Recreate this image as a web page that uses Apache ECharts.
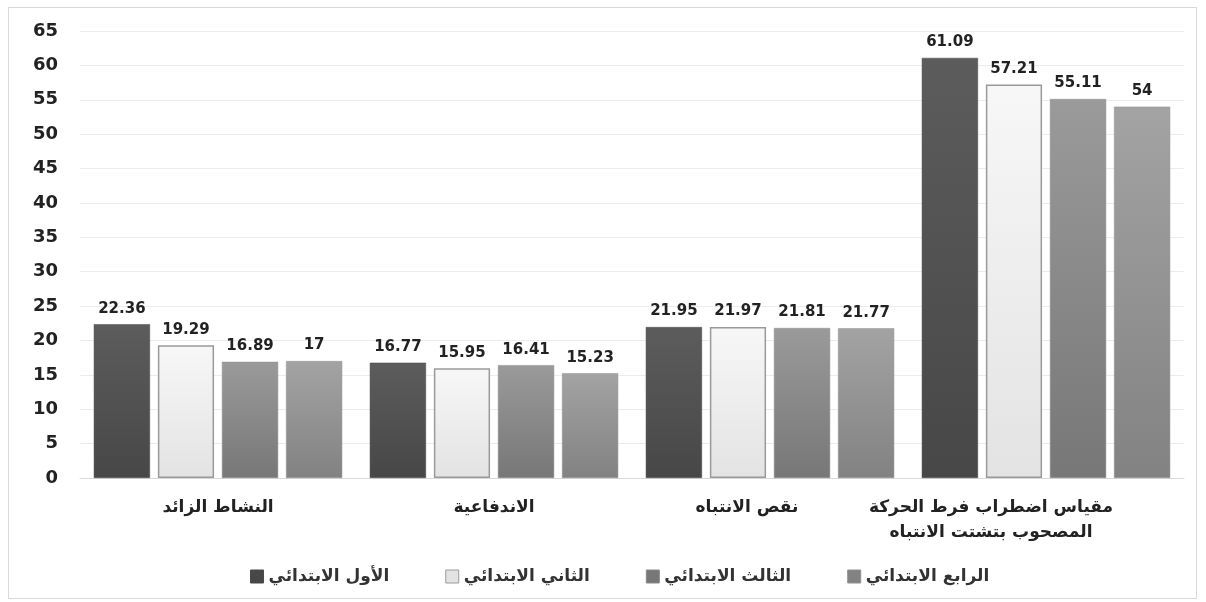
<!DOCTYPE html>
<html><head><meta charset="utf-8">
<script src="https://cdn.jsdelivr.net/npm/echarts@6/dist/echarts.min.js"></script>
<style>
html,body{margin:0;padding:0;background:#fff;}
#frame{position:absolute;left:8px;top:7px;width:1189px;height:592px;border:1px solid #d9d9d9;box-sizing:border-box;}
#c{position:absolute;left:0;top:0;width:1206px;height:602px;}
</style></head>
<body>
<div id="frame"></div>
<div id="c"></div>
<script>
const categories = ['النشاط الزائد', 'الاندفاعية', 'نقص الانتباه', 'مقياس اضطراب فرط الحركة\nالمصحوب بتشتت الانتباه'];
const seriesNames = ['الأول الابتدائي', 'الثاني الابتدائي', 'الثالث الابتدائي', 'الرابع الابتدائي'];
const grade1 = [22.36, 16.77, 21.95, 61.09];
const grade2 = [19.29, 15.95, 21.97, 57.21];
const grade3 = [16.89, 16.41, 21.81, 55.11];
const grade4 = [17, 15.23, 21.77, 54];
const yTicks = [0, 5, 10, 15, 20, 25, 30, 35, 40, 45, 50, 55, 60, 65];

const seriesData = [grade1, grade2, grade3, grade4];
const labelShift = [0, 0, 46, 110];
const fills = [
  ['#5c5c5c', '#474747'],
  ['#f7f7f7', '#e3e3e3'],
  ['#9a9a9a', '#777777'],
  ['#a3a3a3', '#828282']
];
const borders = ['#4a4a4a', '#9a9a9a', '#8a8a8a', '#909090'];
const chart = echarts.init(document.getElementById('c'));
chart.setOption({
  backgroundColor: 'transparent',
  animation: false,
  grid: {left: 80, right: 22, top: 31, bottom: 124, containLabel: false, outerBoundsMode: 'none'},
  legend: {
    bottom: 12, left: 245, icon: 'rect',
    itemWidth: 13, itemHeight: 13, itemGap: 56,
    textStyle: {fontFamily: '"DejaVu Sans"', fontWeight: 'bold', fontSize: 17, color: '#333'},
    data: seriesNames.map((n, i) => ({name: n, itemStyle: {color: fills[i][1], borderColor: borders[i], borderWidth: 1}}))
  },
  xAxis: {
    type: 'category',
    data: categories.map((c, i) => ({value: c, textStyle: {padding: [0, labelShift[i], 0, 0]}})),
    axisLine: {show: true, lineStyle: {color: '#d9d9d9'}},
    axisTick: {show: false},
    axisLabel: {interval: 0, hideOverlap: false, margin: 17, fontFamily: '"DejaVu Sans"', fontWeight: 'bold', fontSize: 17, color: '#222', lineHeight: 25, align: 'center'}
  },
  yAxis: {
    type: 'value', min: 0, max: 65, interval: 5,
    axisLine: {show: false}, axisTick: {show: false},
    splitLine: {lineStyle: {color: '#ececec'}},
    axisLabel: {margin: 22, fontFamily: '"DejaVu Sans"', fontWeight: 'bold', fontSize: 18, color: '#222',
      formatter: v => yTicks.includes(v) ? String(v) : ''}
  },
  series: seriesData.map((d, i) => ({
    name: seriesNames[i], type: 'bar', data: d,
    barGap: '14%', barCategoryGap: '10%',
    itemStyle: {
      color: new echarts.graphic.LinearGradient(0, 0, 0, 1, [{offset: 0, color: fills[i][0]}, {offset: 1, color: fills[i][1]}]),
      borderColor: borders[i], borderWidth: i === 1 ? 1.5 : 0.5
    },
    label: {show: true, position: 'top', distance: 8, fontFamily: '"DejaVu Sans"', fontWeight: 'bold', fontSize: 15, color: '#222'}
  }))
});
</script>
</body></html>
